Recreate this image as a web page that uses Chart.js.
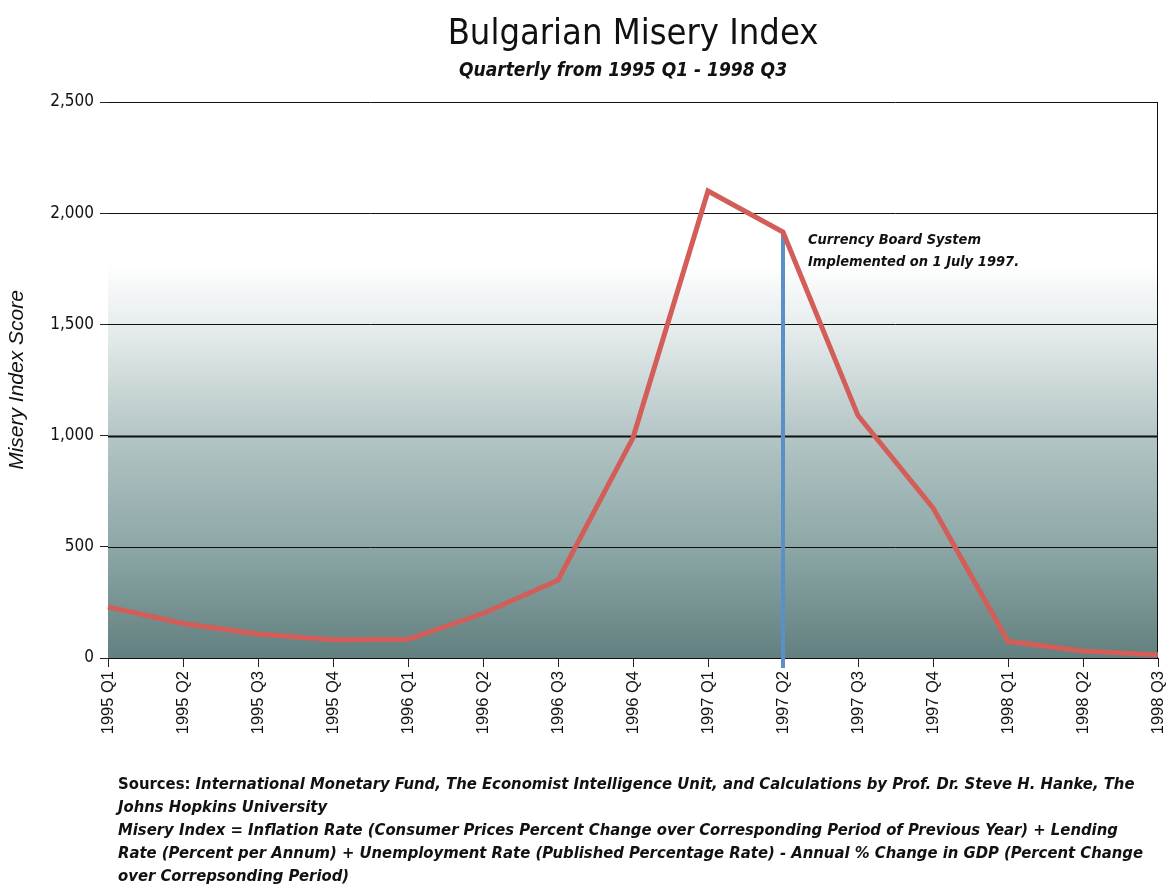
<!DOCTYPE html>
<html>
<head>
<meta charset="utf-8">
<script src="https://cdn.jsdelivr.net/npm/chart.js@4.4.1/dist/chart.umd.min.js"></script>
<style>
  body { margin: 0; background: #fff; }
  #wrap { position: relative; width: 1169px; height: 888px; }
  #c { position: absolute; left: 0; top: 0; }
  .title { position: absolute; left: 108px; width: 1050px; text-align: center; top: 11px;
    font-family: 'DejaVu Sans Condensed', sans-serif; font-size: 36px; color: #111; }
  .sub { position: absolute; left: 108px; width: 1030px; text-align: center; top: 58px;
    font-family: 'DejaVu Sans Condensed', sans-serif; font-size: 19px; font-weight: bold; font-style: italic; color: #111; }
  .notes { position: absolute; left: 118px; top: 772px; font-family: 'DejaVu Sans Condensed', sans-serif;
    font-size: 16.5px; font-weight: bold; font-style: italic; line-height: 23px; color: #111; white-space: nowrap; }
  .notes .n { font-style: normal; }
</style>
</head>
<body>
<div id="wrap">
  <canvas id="c" width="1169" height="888"></canvas>
  <div class="title">Bulgarian Misery Index</div>
  <div class="sub">Quarterly from 1995 Q1 - 1998 Q3</div>
  <div class="notes">
    <span class="n">Sources:</span> International Monetary Fund, The Economist Intelligence Unit, and Calculations by Prof. Dr. Steve H. Hanke, The<br>
    Johns Hopkins University<br>
    Misery Index = Inflation Rate (Consumer Prices Percent Change over Corresponding Period of Previous Year) + Lending<br>
    Rate (Percent per Annum) + Unemployment Rate (Published Percentage Rate) - Annual % Change in GDP (Percent Change<br>
    over Correpsonding Period)
  </div>
</div>
<script>
const quarters = ['1995 Q1', '1995 Q2', '1995 Q3', '1995 Q4', '1996 Q1', '1996 Q2', '1996 Q3', '1996 Q4',
                  '1997 Q1', '1997 Q2', '1997 Q3', '1997 Q4', '1998 Q1', '1998 Q2', '1998 Q3'];
const miseryIndex = [230, 155, 108, 82, 84, 200, 350, 990, 2100, 1915, 1090, 675, 75, 32, 15];
const boardQuarter = '1997 Q2';
const boardNote = ['Currency Board System', 'Implemented on 1 July 1997.'];

const narrow = "'DejaVu Sans Condensed', sans-serif";

const bgPlugin = {
    id: 'bg',
    beforeDatasetsDraw(chart) {
        const a = chart.chartArea, ctx = chart.ctx;
        const g = ctx.createLinearGradient(0, a.top, 0, a.bottom);
        g.addColorStop(0, '#ffffff');
        g.addColorStop(0.29, '#ffffff');
        g.addColorStop(0.42, '#e3eaea');
        g.addColorStop(0.6, '#b4c5c5');
        g.addColorStop(0.8, '#8da7a7');
        g.addColorStop(1, '#62807f');
        ctx.save();
        ctx.fillStyle = g;
        ctx.fillRect(a.left, a.top, a.right - a.left, a.bottom - a.top);
        ctx.restore();
    }
};

// grid lines, right border and the currency board marker, drawn over the gradient
const gridPlugin = {
    id: 'gridOver',
    beforeDatasetsDraw(chart) {
        const ctx = chart.ctx, y = chart.scales.y, a = chart.chartArea;
        ctx.save();
        ctx.strokeStyle = '#111';
        y.ticks.forEach(t => {
            const py = Math.round(y.getPixelForValue(t.value)) + 0.5;
            ctx.lineWidth = t.value === 1000 ? 2 : 1;
            ctx.beginPath();
            ctx.moveTo(a.left, py);
            ctx.lineTo(a.right, py);
            ctx.stroke();
        });
        ctx.lineWidth = 1;
        ctx.beginPath();
        ctx.moveTo(a.right - 0.5, a.top);
        ctx.lineTo(a.right - 0.5, a.bottom);
        ctx.stroke();
        const i = quarters.indexOf(boardQuarter);
        const px = chart.scales.x.getPixelForValue(i);
        const py = y.getPixelForValue(miseryIndex[i]);
        ctx.strokeStyle = '#5b8fc8';
        ctx.lineWidth = 4;
        ctx.beginPath();
        ctx.moveTo(px, py);
        ctx.lineTo(px, a.bottom + 10);
        ctx.stroke();
        ctx.fillStyle = '#111';
        ctx.font = 'italic bold 14.5px ' + narrow;
        ctx.textBaseline = 'middle';
        boardNote.forEach((s, k) => {
            ctx.fillText(s, px + 25, py + 8 + k * 22);
        });
        ctx.restore();
    }
};

new Chart(document.getElementById('c'), {
    type: 'line',
    data: {
        labels: quarters,
        datasets: [{
            data: miseryIndex,
            borderColor: '#d35d58',
            borderWidth: 5,
            pointRadius: 0,
            tension: 0,
            fill: false
        }]
    },
    options: {
        responsive: false,
        animation: false,
        layout: { padding: { top: 102, right: 0, bottom: 148, left: 5 } },
        plugins: { legend: { display: false }, tooltip: { enabled: false } },
        scales: {
            x: {
                offset: false,
                grid: { drawOnChartArea: false, tickLength: 9, tickColor: '#222' },
                border: { color: '#111', width: 1 },
                ticks: { minRotation: 90, maxRotation: 90, autoSkip: false, padding: 4,
                         color: '#111', font: { family: "'Liberation Sans', Arial, sans-serif", size: 16.5 } },
                afterFit(s) { s.height = 82; s.paddingRight = 11; s.paddingLeft = 0; }
            },
            y: {
                min: 0, max: 2500,
                grid: { drawOnChartArea: false, tickLength: 8, tickColor: '#222' },
                border: { color: '#111', width: 1 },
                ticks: { stepSize: 500, padding: 6, color: '#111',
                         font: { family: narrow, size: 17 },
                         callback: v => v.toLocaleString('en-US') },
                title: { display: true, text: 'Misery Index Score', color: '#111', padding: { top: 0, bottom: 6 },
                         font: { family: "'Liberation Sans', Arial, sans-serif", size: 21, style: 'italic' } },
                afterFit(s) { s.width = 103; }
            }
        }
    },
    plugins: [bgPlugin, gridPlugin]
});
</script>
</body>
</html>
